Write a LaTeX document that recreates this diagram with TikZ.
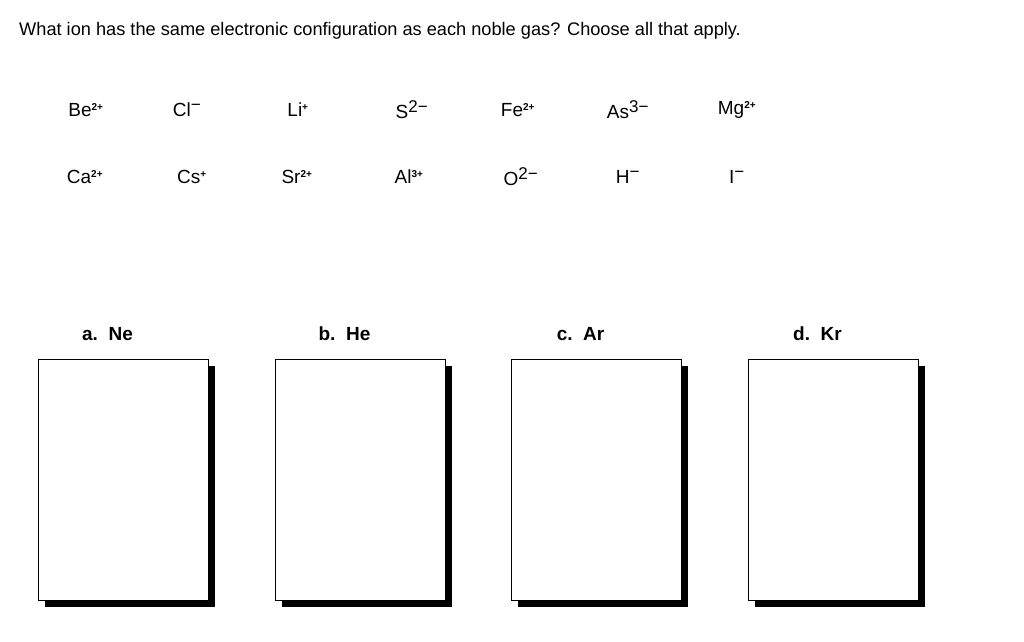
\documentclass[tikz,border=0pt]{standalone}
\usepackage{fontspec}
\setmainfont{Liberation Sans}
\usetikzlibrary{positioning}
\tikzstyle{ion}=[inner sep=0pt, font=\fontsize{19}{21}\selectfont]
\tikzstyle{gas}=[inner sep=0pt, font=\fontsize{19}{22}\selectfont\bfseries]
\tikzstyle{answer}=[draw, line width=1pt, fill=white, minimum width=170pt, minimum height=241pt, anchor=north west, inner sep=0pt]
\newcommand{\ion}{\node[ion]}
\newcommand{\sm}[1]{$^{\hbox{\fontsize{10}{10}\selectfont\bfseries #1}}$}
\newcommand{\bg}[1]{$^{\hbox{\fontsize{17}{17}\selectfont #1}}$}

\begin{document}
\begin{tikzpicture}[x=1pt, y=-1pt]
\useasboundingbox (0,0) rectangle (1024,641);
\node[anchor=west, inner sep=0pt, font=\fontsize{18.2}{21}\selectfont] (title) at (19,31)
  {What ion has the same electronic configuration as each noble gas? Choose all that apply.};
% first row
\ion (be) at (86,110) {Be\sm{2+}};
\ion (cl) at (187,110) {Cl\bg{−}};
\ion (li) at (298,110) {Li\sm{+}};
\ion (s) at (412,110) {S\bg{2−}};
\ion (fe) at (518,110) {Fe\sm{2+}};
\ion (as) at (628,110) {As\bg{3−}};
\ion (mg) at (737,110) {Mg\sm{2+}};
% second row
\ion (ca) at (85,177) {Ca\sm{2+}};
\ion (cs) at (192,177) {Cs\sm{+}};
\ion (sr) at (297,177) {Sr\sm{2+}};
\ion (al) at (409,177) {Al\sm{3+}};
\ion (o) at (521,177) {O\bg{2−}};
\ion (h) at (628,177) {H\bg{−}};
\ion (i) at (737,177) {I\bg{−}};
% boxes
\foreach \x/\lab [count=\k] in {38/a.\ \ Ne, 275/b.\ \ He, 511/c.\ \ Ar, 748/d.\ \ Kr}{
  \fill (\x+7,366) rectangle (\x+177,607);
  \node[answer] (box\k) at (\x,359) {};
  \node[gas, above=18pt of box\k, xshift=-16pt] (gas\k) {\lab};
}
\end{tikzpicture}
\end{document}
